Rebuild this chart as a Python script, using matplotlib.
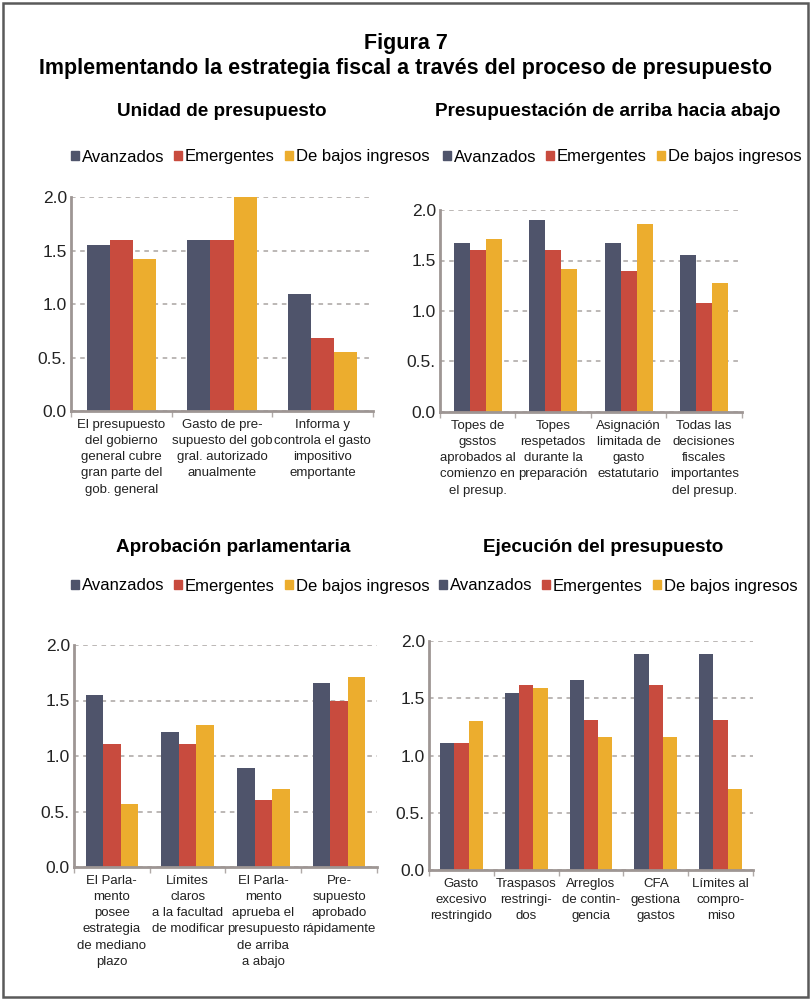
import numpy as np
import matplotlib
matplotlib.use("Agg")
import matplotlib.pyplot as plt
from matplotlib.patches import Rectangle, Patch

plt.rcParams['font.family'] = ['Liberation Sans', 'DejaVu Sans']

series = ["Avanzados", "Emergentes", "De bajos ingresos"]
colors = ["#4f546b", "#c84b3e", "#ecad2e"]

# Unidad de presupuesto
cats_unidad = ["El presupuesto\ndel gobierno\ngeneral cubre\ngran parte del\ngob. general",
               "Gasto de pre-\nsupuesto del gob\ngral. autorizado\nanualmente",
               "Informa y\ncontrola el gasto\nimpositivo\nemportante"]
unidad_avz = [1.55, 1.60, 1.09]
unidad_emg = [1.60, 1.60, 0.68]
unidad_baj = [1.42, 2.00, 0.55]

# Presupuestacion de arriba hacia abajo
cats_arriba = ["Topes de\ngsstos\naprobados al\ncomienzo en\nel presup.",
               "Topes\nrespetados\ndurante la\npreparación",
               "Asignación\nlimitada de\ngasto\nestatutario",
               "Todas las\ndecisiones\nfiscales\nimportantes\ndel presup."]
arriba_avz = [1.67, 1.90, 1.67, 1.55]
arriba_emg = [1.60, 1.60, 1.40, 1.08]
arriba_baj = [1.71, 1.42, 1.86, 1.28]

# Aprobacion parlamentaria
cats_parl = ["El Parla-\nmento\nposee\nestrategia\nde mediano\nplazo",
             "Límites\nclaros\na la facultad\nde modificar",
             "El Parla-\nmento\naprueba el\npresupuesto\nde arriba\na abajo",
             "Pre-\nsupuesto\naprobado\nrápidamente"]
parl_avz = [1.55, 1.22, 0.89, 1.66]
parl_emg = [1.11, 1.11, 0.60, 1.50]
parl_baj = [0.57, 1.28, 0.70, 1.71]

# Ejecucion del presupuesto
cats_ejec = ["Gasto\nexcesivo\nrestringido", "Traspasos\nrestringi-\ndos",
             "Arreglos\nde contin-\ngencia", "CFA\ngestiona\ngastos",
             "Límites al\ncompro-\nmiso"]
ejec_avz = [1.11, 1.55, 1.66, 1.89, 1.89]
ejec_emg = [1.11, 1.62, 1.31, 1.62, 1.31]
ejec_baj = [1.30, 1.59, 1.16, 1.16, 0.71]

yticks = [0.0, 0.5, 1.0, 1.5, 2.0]
yticklabels = ["0.0", "0.5.", "1.0", "1.5", "2.0"]

W, H = 812.0, 1000.0

fig = plt.figure(figsize=(8.12, 10), dpi=100)
fig.patches.append(Rectangle((0.004, 0.003), 0.991, 0.994, transform=fig.transFigure,
                             fill=False, edgecolor="#5a5a5a", lw=1.8))

fig.text(0.5, 1 - 43 / H, "Figura 7", ha="center", va="center", fontsize=15.5, fontweight="bold")
fig.text(0.5, 1 - 68 / H, "Implementando la estrategia fiscal a través del proceso de presupuesto",
         ha="center", va="center", fontsize=15.5, fontweight="bold")


def panel(box, cats, avz, emg, baj, bw, title, title_xy, leg_xy, xfs):
    # box = (left, top, right, bottom) in pixels from the top-left corner
    l, t, r, b = box
    ax = fig.add_axes([l / W, 1 - b / H, (r - l) / W, (b - t) / H])
    x = np.arange(len(cats))
    for k, vals in enumerate([avz, emg, baj]):
        ax.bar(x + (k - 1) * bw, vals, bw, color=colors[k], edgecolor="none")
    ax.set_xlim(-0.5, len(cats) - 0.5)
    ax.set_ylim(0, 2.0)
    ax.set_yticks(yticks)
    ax.set_yticklabels(yticklabels, fontsize=12.5, color="#222222")
    ax.yaxis.set_tick_params(length=0, pad=3)
    ax.set_xticks(x)
    ax.set_xticklabels(cats, fontsize=xfs, color="#222222", linespacing=1.45)
    ax.xaxis.set_tick_params(length=0, pad=6)
    ax.set_xticks(np.arange(len(cats) + 1) - 0.5, minor=True)
    ax.xaxis.set_tick_params(which="minor", length=4, color="#b0aaa8", width=1)
    ax.set_axisbelow(True)
    ax.grid(axis="y", color="#aaa4a2", lw=1.1, ls=(0, (3, 3)))
    for s in ["top", "right"]:
        ax.spines[s].set_visible(False)
    for s in ["left", "bottom"]:
        ax.spines[s].set_color("#9e9694")
        ax.spines[s].set_linewidth(2)
    fig.text(title_xy[0] / W, 1 - title_xy[1] / H, title, ha="center", va="center",
             fontsize=13.6, fontweight="bold")
    handles = [Patch(color=c) for c in colors]
    fig.legend(handles, series, loc="center", bbox_to_anchor=(leg_xy[0] / W, 1 - leg_xy[1] / H),
               ncol=3, frameon=False, fontsize=12, handlelength=0.5, handleheight=0.5,
               handletextpad=0.15, columnspacing=0.6, borderaxespad=0, borderpad=0)
    return ax


panel((71, 197, 373, 411), cats_unidad, unidad_avz, unidad_emg, unidad_baj,
      0.23, "Unidad de presupuesto", (222, 112), (250, 157), 9.5)
panel((440, 210, 742, 412), cats_arriba, arriba_avz, arriba_emg, arriba_baj,
      0.21, "Presupuestación de arriba hacia abajo", (608, 112), (622, 157), 9.5)
panel((74, 645, 377, 867), cats_parl, parl_avz, parl_emg, parl_baj,
      0.23, "Aprobación parlamentaria", (233, 548), (250, 586), 9.5)
panel((429, 641, 753, 870), cats_ejec, ejec_avz, ejec_emg, ejec_baj,
      0.22, "Ejecución del presupuesto", (603, 548), (618, 586), 9.5)

fig.savefig("out.png", dpi=100)
